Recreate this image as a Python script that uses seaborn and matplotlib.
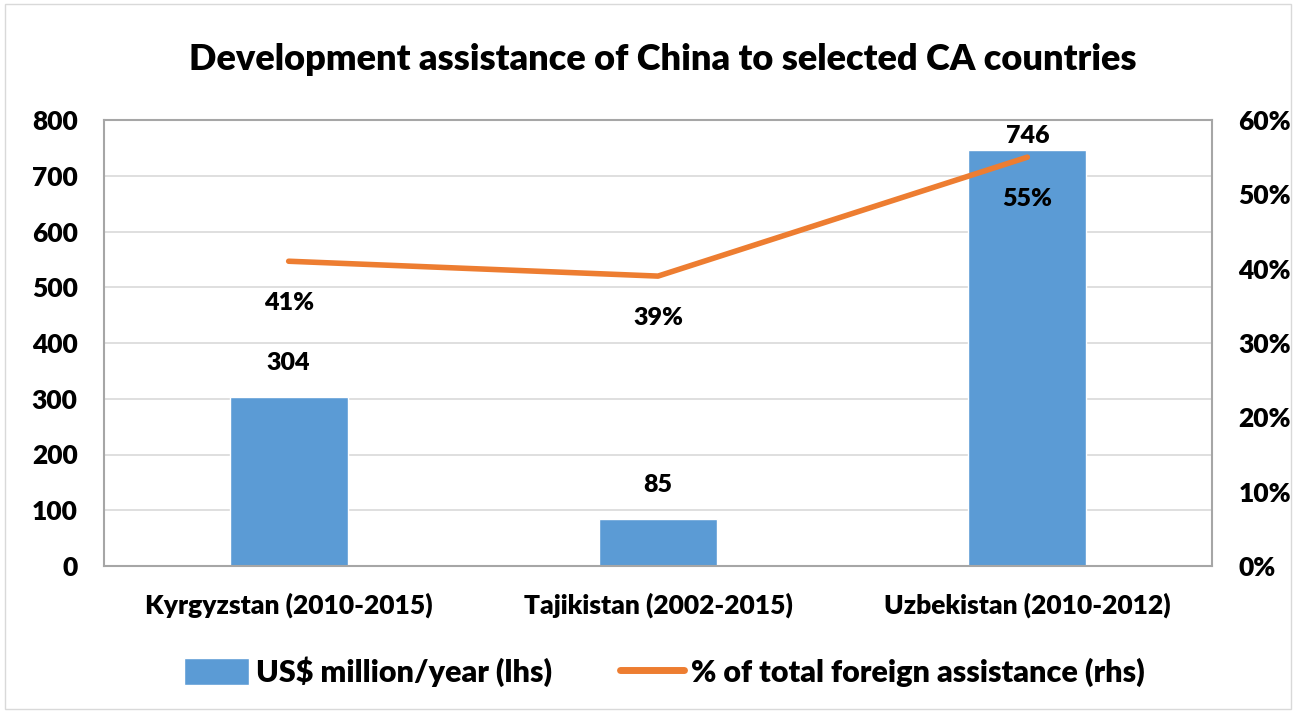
import matplotlib
matplotlib.use("Agg")

import numpy as np
import pandas as pd
import matplotlib.pyplot as plt
import seaborn as sns
from matplotlib.patches import Patch
from matplotlib.lines import Line2D

# data
countries = ["Kyrgyzstan (2010-2015)", "Tajikistan (2002-2015)", "Uzbekistan (2010-2012)"]
usd_million = [304, 85, 746]
share_pct = [41, 39, 55]

bar_label = "US$ million/year (lhs)"
line_label = "% of total foreign assistance (rhs)"

blue = "#5B9BD5"
orange = "#ED7D31"

sns.set_style("white")
plt.rcParams["font.family"] = ["Lato", "DejaVu Sans"]
plt.rcParams["font.weight"] = "heavy"
plt.rcParams["text.color"] = "black"
plt.rcParams["xtick.color"] = "black"
plt.rcParams["ytick.color"] = "black"

df = pd.DataFrame({"country": countries, "usd": usd_million, "share": share_pct})

fig = plt.figure(figsize=(12.96, 7.12), dpi=100)
ax = fig.add_axes([104 / 1296, 1 - 566 / 712, 1108 / 1296, 446 / 712])

sns.barplot(data=df, x="country", y="usd", color=blue, width=0.32,
            saturation=1, ax=ax, zorder=2)
ax.set_ylim(0, 800)
ax.set_xlim(-0.5, 2.5)
ax.set_yticks(range(0, 801, 100))
ax.yaxis.grid(True, color="#d9d9d9", linewidth=1.2, zorder=0)
ax.set_axisbelow(True)
ax.set_xlabel("")
ax.set_ylabel("")
ax.tick_params(axis="y", labelsize=19, pad=19, length=0)
ax.tick_params(axis="x", labelsize=19, pad=19, length=0)
for lab in ax.get_xticklabels() + ax.get_yticklabels():
    lab.set_fontweight("heavy")
for s in ax.spines.values():
    s.set_visible(True)
    s.set_color("#a6a6a6")
    s.set_linewidth(1.5)

# bar value labels (last one sits close to its bar top, as in the original)
bar_offsets = [16, 16, 2]
for i, v in enumerate(usd_million):
    ax.annotate(str(v), (i, v), xytext=(0, bar_offsets[i]), textcoords="offset points",
                ha="center", va="bottom", fontsize=18, fontweight="heavy")

ax2 = ax.twinx()
sns.lineplot(x=np.arange(len(countries)), y=share_pct, color=orange, linewidth=4,
             ax=ax2, zorder=3)
ax2.set_ylim(0, 60)
ax2.set_yticks(range(0, 61, 10))
ax2.set_yticklabels([f"{t}%" for t in range(0, 61, 10)])
ax2.tick_params(axis="y", labelsize=19, pad=19, length=0)
for lab in ax2.get_yticklabels():
    lab.set_fontweight("heavy")
for s in ax2.spines.values():
    s.set_visible(False)

for i, v in enumerate(share_pct):
    ax2.annotate(f"{v}%", (i, v), xytext=(0, -22), textcoords="offset points",
                 ha="center", va="top", fontsize=18, fontweight="heavy")

fig.suptitle("Development assistance of China to selected CA countries",
             x=0.511, y=1 - 59 / 712, va="center", fontsize=26, fontweight="heavy")

handles = [Patch(facecolor=blue, label=bar_label),
           Line2D([0], [0], color=orange, linewidth=5, label=line_label)]
leg = fig.legend(handles=handles, loc="center", bbox_to_anchor=(0.513, 1 - 672 / 712),
                 ncol=2, frameon=False, fontsize=22, handlelength=2.1, handleheight=1.0,
                 columnspacing=2.2, handletextpad=0.25)
for t in leg.get_texts():
    t.set_fontweight("heavy")

# light outer border like the exported chart area
fig.patches.append(plt.Rectangle((0.004, 0.004), 0.992, 0.99, transform=fig.transFigure,
                                 fill=False, edgecolor="#d9d9d9", linewidth=1))

fig.savefig("out.png", dpi=100)
